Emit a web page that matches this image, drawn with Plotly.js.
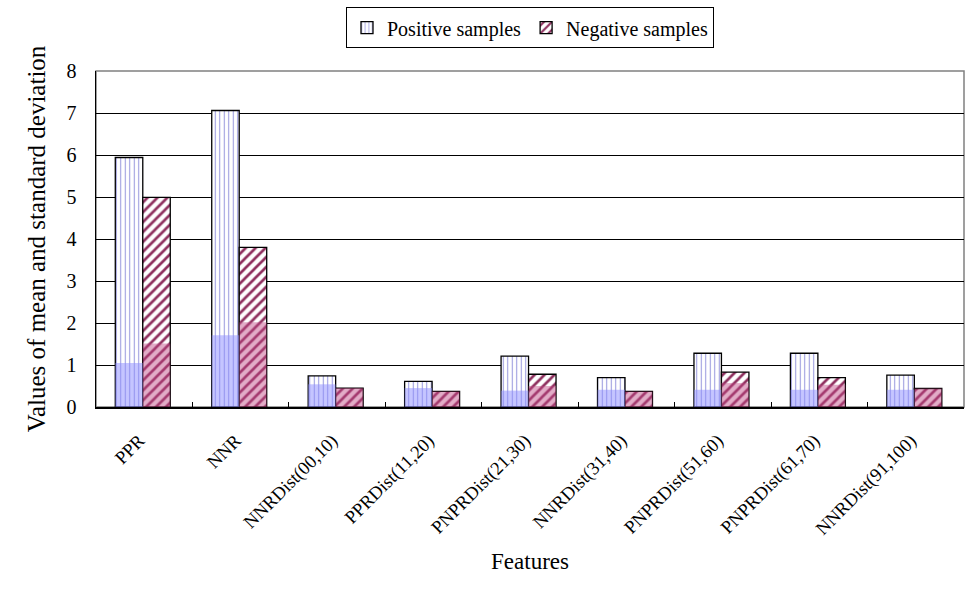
<!DOCTYPE html>
<html>
<head>
<meta charset="utf-8">
<script src="https://cdn.plot.ly/plotly-3.0.1.min.js"></script>
<style>
  body { margin: 0; background: #fff; }
  #myPlot { width: 979px; height: 601px; }
</style>
</head>
<body>
<div id="myPlot"></div>
<script>
// Features along the x axis
var features = ["PPR", "NNR", "NNRDist(00,10)", "PPRDist(11,20)", "PNPRDist(21,30)",
  "NNRDist(31,40)", "PNPRDist(51,60)", "PNPRDist(61,70)", "NNRDist(91,100)"];

// taller (patterned) bars
var posTall = [5.94, 7.06, 0.74, 0.61, 1.21, 0.70, 1.28, 1.28, 0.76];
var negTall = [4.99, 3.80, 0.45, 0.37, 0.78, 0.37, 0.83, 0.70, 0.44];

// shaded lower part of each bar
var posLow = [1.05, 1.71, 0.54, 0.45, 0.39, 0.41, 0.41, 0.41, 0.41];
var negLow = [1.51, 2.02, 0.45, 0.37, 0.50, 0.37, 0.57, 0.53, 0.44];

var serif = "Liberation Serif";
var barW = 0.285;

var posBar = {
  type: "bar", name: "Positive samples", x: features, y: posTall,
  offset: -0.3, width: barW,
  marker: {
    color: "#ffffff",
    pattern: { shape: "|", size: 4.5, solidity: 0.22, fgcolor: "#9494dc", bgcolor: "#ffffff" },
    line: { color: "#000000", width: 1.3 }
  },
  hoverinfo: "skip"
};
var negBar = {
  type: "bar", name: "Negative samples", x: features, y: negTall,
  offset: -0.015, width: barW,
  marker: {
    color: "#ffffff",
    pattern: { shape: "/", size: 7, solidity: 0.38, fgcolor: "#8e2f5e", bgcolor: "#ffffff" },
    line: { color: "#000000", width: 1.3 }
  },
  hoverinfo: "skip"
};
var posShade = {
  type: "bar", x: features, y: posLow, showlegend: false,
  offset: -0.3, width: barW,
  marker: { color: "rgba(140,140,255,0.5)", line: { width: 0 } },
  hoverinfo: "skip"
};
var negShade = {
  type: "bar", x: features, y: negLow, showlegend: false,
  offset: -0.015, width: barW,
  marker: { color: "rgba(190,70,130,0.45)", line: { width: 0 } },
  hoverinfo: "skip"
};

var layout = {
  width: 979, height: 601,
  margin: { l: 96, r: 15, t: 71, b: 194 },
  barmode: "overlay",
  paper_bgcolor: "#ffffff", plot_bgcolor: "#ffffff",
  font: { family: serif, color: "#000000", size: 20 },
  showlegend: true,
  legend: {
    orientation: "h", x: 0.5, xanchor: "center",
    yref: "container", y: 0.988, yanchor: "top",
    bordercolor: "#000000", borderwidth: 1, bgcolor: "#ffffff",
    font: { family: serif, size: 20 }, traceorder: "normal",
    itemwidth: 30, tracegroupgap: 0
  },
  xaxis: {
    type: "category", range: [-0.5, 8.5],
    tickangle: -45, tickfont: { family: serif, size: 18.5 },
    ticks: "inside", tickson: "boundaries", ticklen: 5, tickcolor: "#000000",
    ticklabelshift: -5, ticklabelstandoff: 14,
    showline: true, linecolor: "#000000", linewidth: 1.5,
    showgrid: false, automargin: false,
    title: { text: "Features", font: { family: serif, size: 23 }, standoff: 14 }
  },
  yaxis: {
    range: [0, 8], dtick: 1, tick0: 0,
    tickfont: { family: serif, size: 20 }, ticks: "", ticklabelstandoff: 14,
    showline: true, linecolor: "#000000", linewidth: 1.5,
    showgrid: true, gridcolor: "#000000", gridwidth: 1,
    zeroline: false, automargin: false,
    title: { text: "Values of mean and standard deviation", font: { family: serif, size: 25 }, standoff: 14 }
  },
  shapes: [{
    type: "rect", xref: "paper", yref: "paper", x0: 0, x1: 1, y0: 0, y1: 1,
    line: { color: "#808080", width: 1.5 }, layer: "below"
  }]
};

Plotly.newPlot("myPlot", [posBar, negBar, posShade, negShade], layout, { displayModeBar: false, staticPlot: true });
</script>
</body>
</html>
